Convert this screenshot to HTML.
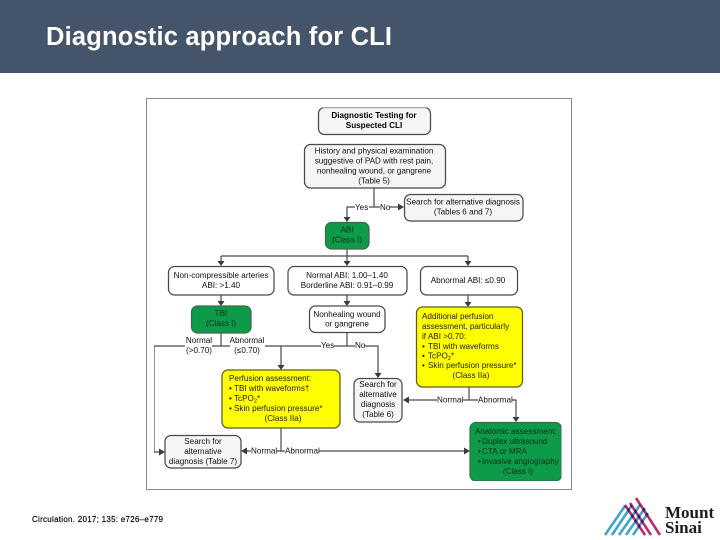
<!DOCTYPE html>
<html><head><meta charset="utf-8"><style>
html,body{margin:0;padding:0;background:#fff;width:720px;height:540px;overflow:hidden}
svg{display:block}
.d text{font-family:"Liberation Sans",sans-serif;font-size:8.15px;fill:#111}
.d .m{text-anchor:middle}
.d .b{font-weight:bold;fill:#000}
.d .g{fill:#06301a}
.d .y{fill:#1c1c00}
.box{fill:#f5f5f5;stroke:#4a4a4a;stroke-width:1.25}
.wbox{fill:#fff;stroke:#4a4a4a;stroke-width:1.25}
.grn{fill:#0c9a4a;stroke:#3e6b4c;stroke-width:1.25}
.yel{fill:#ffff00;stroke:#5c5c1c;stroke-width:1.25}
.l{fill:none;stroke:#4a4a4a;stroke-width:1.2}
.a{fill:#3a3a3a}
</style></head><body>
<svg width="720" height="540" viewBox="0 0 720 540" xmlns="http://www.w3.org/2000/svg">
<defs><filter id="bl" x="0" y="0" width="100%" height="100%"><feGaussianBlur stdDeviation="0.3"/></filter></defs>
<rect x="0" y="0" width="720" height="73" fill="#44546a"/>
<text x="46" y="45" font-family="'Liberation Sans',sans-serif" font-weight="bold" font-size="25.5" fill="#fff" textLength="346">Diagnostic approach for CLI</text>
<rect x="146.5" y="98.5" width="425" height="391" fill="#fff" stroke="#8a8a8a" stroke-width="1"/>
<g class="d" filter="url(#bl)">
<path class="l" d="M374 188V207M369 207H380M355 207H347V218M390 207H400"/>
<path class="l" d="M347 249V262M221 256H468M221 256V262M468 256V262M221 295V302M347 295V302M468 295V303"/>
<path class="l" d="M221 333V346M154 346H185M212 346H230M154 346V452H161M265 346H321M334 346H355M365 346H378V374M347 332V346M281 346V366"/>
<path class="l" d="M281 428V451M245 451H251M277 451H285M319 451H466"/>
<path class="l" d="M469 387V400M407 400H437M463 400H478M512 400H516V418"/>
<path class="a" d="M347 222l-3.500-5h7zM404 207l-6-3.500v7zM221 266l-3.500-5h7zM347 266l-3.500-5h7zM468 266l-3.500-5h7zM221 306l-3.500-5h7zM347 306l-3.500-5h7zM468 307l-3.500-5h7zM281 370l-3.500-5h7zM378 378l-3.500-5h7zM165 452l-6-3.500v7zM241 451l6-3.500v7zM403 400l6-3.500v7zM516 422l-3.500-5h7zM470 451l-6-3.500v7z"/>
<rect class="box" x="318.500" y="107.500" width="112" height="27" rx="6"/>
<rect class="box" x="304.500" y="144.500" width="141" height="43.500" rx="6"/>
<rect class="box" x="404.500" y="194.500" width="118.500" height="26.500" rx="6"/>
<rect class="grn" x="325.500" y="222.500" width="43.500" height="26.500" rx="6"/>
<rect class="wbox" x="168.500" y="266.500" width="105.500" height="28.500" rx="6"/>
<rect class="wbox" x="288" y="266.500" width="119" height="28.500" rx="6"/>
<rect class="wbox" x="420.500" y="266.500" width="97" height="28.500" rx="6"/>
<rect class="grn" x="191.500" y="306" width="59.500" height="27" rx="6"/>
<rect class="wbox" x="309.500" y="306" width="75.500" height="26.500" rx="6"/>
<rect class="yel" x="416.500" y="307" width="106" height="80" rx="6"/>
<rect class="yel" x="222" y="370" width="118" height="58" rx="6"/>
<rect class="box" x="354" y="378.500" width="48" height="43.500" rx="6"/>
<rect class="box" x="165" y="435.500" width="76" height="32.500" rx="6"/>
<rect class="grn" x="470" y="422.500" width="91.500" height="58.500" rx="6"/>
<text class="m b" x="374" y="118">Diagnostic Testing for</text>
<text class="m b" x="374" y="128">Suspected CLI</text>
<text class="m" x="374" y="153.500">History and physical examination</text>
<text class="m" x="374" y="163.500">suggestive of PAD with rest pain,</text>
<text class="m" x="374" y="173.500">nonhealing wound, or gangrene</text>
<text class="m" x="374" y="183.500">(Table 5)</text>
<text x="355" y="210">Yes</text><text x="380" y="210">No</text>
<text class="m" x="463" y="204.500">Search for alternative diagnosis</text>
<text class="m" x="463" y="214.500">(Tables 6 and 7)</text>
<text class="m g" x="347" y="232.500">ABI</text>
<text class="m g" x="347" y="242.500">(Class I)</text>
<text class="m" x="221" y="278">Non-compressible arteries</text>
<text class="m" x="221" y="288">ABI: &gt;1.40</text>
<text class="m" x="347" y="278">Normal ABI: 1.00–1.40</text>
<text class="m" x="347" y="288">Borderline ABI: 0.91–0.99</text>
<text class="m" x="468" y="283">Abnormal ABI: ≤0.90</text>
<text class="m g" x="221" y="316">TBI</text>
<text class="m g" x="221" y="326">(Class I)</text>
<text class="m" x="199" y="343">Normal</text>
<text class="m" x="199" y="353">(&gt;0.70)</text>
<text class="m" x="247" y="343">Abnormal</text>
<text class="m" x="247" y="353">(≤0.70)</text>
<text x="321" y="348">Yes</text><text x="355" y="348">No</text>
<text class="m" x="347" y="317">Nonhealing wound</text>
<text class="m" x="347" y="326.500">or gangrene</text>
<text class="y" x="229" y="381">Perfusion assessment:</text>
<text class="y" x="229" y="391">•</text><text class="y" x="234" y="391">TBI with waveforms†</text>
<text class="y" x="229" y="401">•</text><text class="y" x="234" y="401">TcPO<tspan font-size="5.500" dy="1.500">2</tspan><tspan dy="-1.500">*</tspan></text>
<text class="y" x="229" y="411">•</text><text class="y" x="234" y="411">Skin perfusion pressure*</text>
<text class="m y" x="283" y="421">(Class IIa)</text>
<text class="y" x="422" y="319">Additional perfusion</text>
<text class="y" x="422" y="329">assessment, particularly</text>
<text class="y" x="422" y="339">if ABI &gt;0.70:</text>
<text class="y" x="422" y="349">•</text><text class="y" x="428" y="349">TBI with waveforms</text>
<text class="y" x="422" y="358.500">•</text><text class="y" x="428" y="358.500">TcPO<tspan font-size="5.500" dy="1.500">2</tspan><tspan dy="-1.500">*</tspan></text>
<text class="y" x="422" y="368">•</text><text class="y" x="428" y="368">Skin perfusion pressure*</text>
<text class="m y" x="471" y="378">(Class IIa)</text>
<text class="m" x="378" y="387">Search for</text>
<text class="m" x="378" y="397">alternative</text>
<text class="m" x="378" y="407">diagnosis</text>
<text class="m" x="378" y="417">(Table 6)</text>
<text x="437" y="402.500">Normal</text><text x="478" y="402.500">Abnormal</text>
<text class="m" x="203" y="444">Search for</text>
<text class="m" x="203" y="454">alternative</text>
<text class="m" x="203" y="464">diagnosis (Table 7)</text>
<text x="251" y="453.500">Normal</text><text x="285" y="453.500">Abnormal</text>
<text class="g" x="475" y="434">Anatomic assessment:</text>
<text class="g" x="478" y="444">•</text><text class="g" x="482" y="444">Duplex ultrasound</text>
<text class="g" x="478" y="454">•</text><text class="g" x="482" y="454">CTA or MRA</text>
<text class="g" x="478" y="464">•</text><text class="g" x="482" y="464">Invasive angiography</text>
<text class="m g" x="518" y="474">(Class I)</text>
</g>
<text x="32" y="522" font-family="'Liberation Sans',sans-serif" font-size="8" fill="#000" stroke="#000" stroke-width="0.15" textLength="131">Circulation. 2017; 135: e726–e779</text>
<g fill="none" stroke-width="2.600">
<g stroke="#3fa6c8">
<path d="M605 535L625 506M612 535L632 505M619 535L640 505M626 535L645 508M633 535L648 513"/>
</g>
<g stroke="#c0287a" style="mix-blend-mode:multiply">
<path d="M625 505L645 535M630 503L651 535M636 498L660 535"/>
</g>
</g>
<text x="665" y="518" font-family="'Liberation Serif',serif" font-weight="bold" font-size="17" fill="#1c1c24">Mount</text>
<text x="665" y="533" font-family="'Liberation Serif',serif" font-weight="bold" font-size="17" fill="#1c1c24">Sinai</text>
</svg>
</body></html>
